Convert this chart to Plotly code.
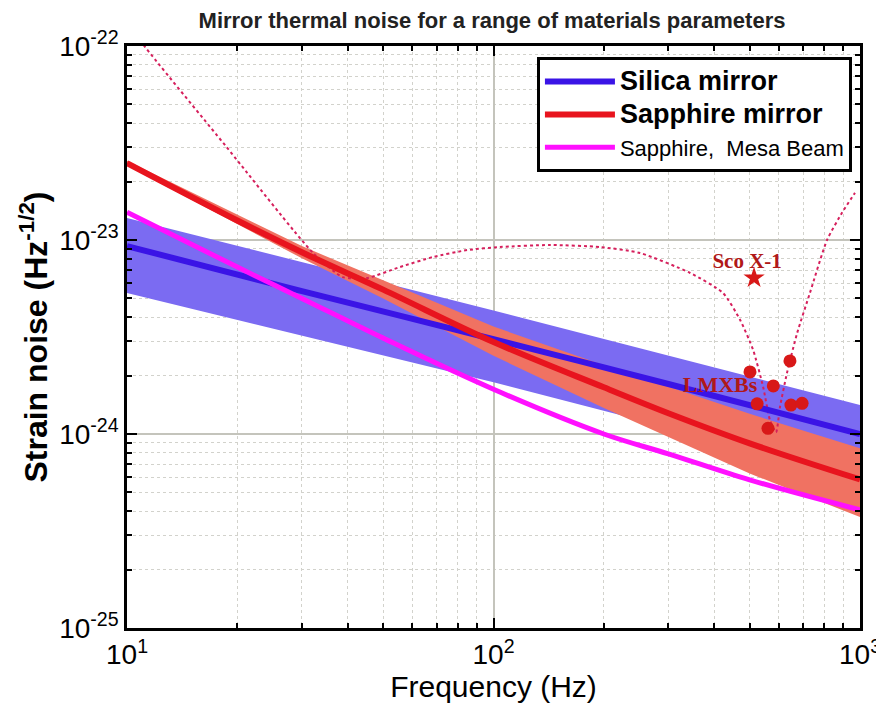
import numpy as np
import plotly.graph_objects as go

# ---------------- data ----------------
# Silica mirror (blue) central curve and band
silica_f = [10, 30, 100, 300, 1000]
silica_h = [9.3e-24, 5.45e-24, 3.08e-24, 1.81e-24, 1.0e-24]
silica_band_f = [10, 100, 1000]
silica_band_hi = [1.30e-23, 4.33e-24, 1.41e-24]
silica_band_lo = [5.33e-24, 1.85e-24, 6.0e-25]

# Sapphire mirror (red) central curve and band
sapph_f = [10, 20, 30, 50, 100, 200, 300, 500, 1000]
sapph_h = [2.49e-23, 1.26e-23, 8.65e-24, 5.55e-24, 2.98e-24, 1.74e-24, 1.28e-24, 8.95e-25, 5.83e-25]
sapph_band_f = [10, 30, 50, 100, 200, 300, 500, 1000]
sapph_band_hi = [2.56e-23, 9.3e-24, 6.2e-24, 3.58e-24, 2.26e-24, 1.75e-24, 1.27e-24, 8.45e-25]
sapph_band_lo = [2.42e-23, 8.05e-24, 5.0e-24, 2.53e-24, 1.36e-24, 9.6e-25, 6.26e-25, 3.73e-25]

# Sapphire, Mesa beam (magenta)
mesa_f = [10, 20, 30, 50, 100, 200, 300, 500, 1000]
mesa_h = [1.39e-23, 7.25e-24, 5.0e-24, 3.12e-24, 1.70e-24, 1.0e-24, 7.9e-25, 5.8e-25, 4.06e-25]

# Dotted (narrow-band detector) curve
det_f = [10, 10.85, 18.6, 32.2, 38.8, 45.2, 55.6, 68.4, 84.7, 104, 143, 195, 251, 344,
         423, 471, 511, 544, 568, 590, 605, 632, 674, 730, 813, 893, 969]
det_h = [1.36e-22, 1.07e-22, 3.05e-23, 8.57e-24, 6.44e-24, 6.37e-24, 7.26e-24, 8.17e-24,
         8.87e-24, 9.2e-24, 9.42e-24, 9.2e-24, 8.57e-24, 6.76e-24, 5.33e-24, 3.87e-24,
         2.71e-24, 1.75e-24, 1.18e-24, 1.02e-24, 1.38e-24, 2.06e-24, 3.32e-24, 5.33e-24,
         1.0e-23, 1.38e-23, 1.75e-23]

# LMXB sources
lmxb_f = [501, 644, 580, 524, 648, 695, 561]
lmxb_h = [2.09e-24, 2.38e-24, 1.77e-24, 1.43e-24, 1.41e-24, 1.44e-24, 1.07e-24]

# Sco X-1
sco_f = [514]
sco_h = [6.37e-24]

# Labels
sco_label_f, sco_label_h = [492], [7.6e-24]
lmxb_label_f, lmxb_label_h = [415], [1.75e-24]

x_tickvals = [10, 100, 1000]
x_ticktext = ['10<sup>1</sup>', '10<sup>2</sup>', '10<sup>3</sup>']
y_tickvals = [1e-25, 1e-24, 1e-23, 1e-22]
y_ticktext = ['10<sup>-25</sup>', '10<sup>-24</sup>', '10<sup>-23</sup>', '10<sup>-22</sup>']

# ---------------- figure ----------------
BLUE = '#3A14E6'
BLUE_BAND = '#7B6BF2'
RED = '#E8141E'
ORANGE_BAND = '#F07262'
MAGENTA = '#FF10FF'
DOT = '#D61F5C'
DARKRED = '#B01818'

# page body has an 8px margin: figure is sized to fit the 884x706 window
W, H = 876, 698

fig = go.Figure()

fig.add_trace(go.Scatter(
    x=silica_band_f + silica_band_f[::-1],
    y=silica_band_hi + silica_band_lo[::-1],
    fill='toself', fillcolor=BLUE_BAND, line=dict(width=0),
    mode='lines', showlegend=False, hoverinfo='skip'))

fig.add_trace(go.Scatter(
    x=sapph_band_f + sapph_band_f[::-1],
    y=sapph_band_hi + sapph_band_lo[::-1],
    fill='toself', fillcolor=ORANGE_BAND, line=dict(width=0),
    mode='lines', showlegend=False, hoverinfo='skip'))

fig.add_trace(go.Scatter(
    x=det_f, y=det_h, mode='lines',
    line=dict(color=DOT, width=2, dash='dot', shape='spline', smoothing=0.6),
    showlegend=False))

fig.add_trace(go.Scatter(
    x=silica_f, y=silica_h, mode='lines',
    name='<span style="font-size:27px"><b>Silica mirror</b></span>',
    line=dict(color=BLUE, width=6, shape='spline')))
fig.add_trace(go.Scatter(
    x=sapph_f, y=sapph_h, mode='lines',
    name='<span style="font-size:27px"><b>Sapphire mirror</b></span>',
    line=dict(color=RED, width=6, shape='spline')))
fig.add_trace(go.Scatter(
    x=mesa_f, y=mesa_h, mode='lines',
    name='<span style="font-size:22px">Sapphire,\u00a0 Mesa Beam</span>',
    line=dict(color=MAGENTA, width=5, shape='spline')))

fig.add_trace(go.Scatter(
    x=lmxb_f, y=lmxb_h, mode='markers',
    marker=dict(color='#D81818', size=13, line=dict(width=0)),
    showlegend=False))
fig.add_trace(go.Scatter(
    x=sco_f, y=sco_h, mode='markers',
    marker=dict(color='#D81818', size=16, symbol='star', line=dict(width=0)),
    showlegend=False))

fig.add_trace(go.Scatter(
    x=sco_label_f, y=sco_label_h, mode='text', text=['<b>Sco X-1</b>'],
    textfont=dict(family='Liberation Serif', size=21, color=DARKRED),
    showlegend=False))
fig.add_trace(go.Scatter(
    x=lmxb_label_f, y=lmxb_label_h, mode='text', text=['<b>LMXBs</b>'],
    textfont=dict(family='Liberation Serif', size=22, color=DARKRED),
    showlegend=False))

axis_common = dict(
    type='log', showline=True, linewidth=2.5, linecolor='black', mirror='allticks',
    ticks='inside', ticklen=10, tickwidth=2, tickcolor='black',
    showgrid=True, gridcolor='#C4C4BC', gridwidth=1.5,
    zeroline=False, automargin=False,
    tickfont=dict(family='Liberation Sans', size=28, color='black'),
    minor=dict(ticks='inside', ticklen=5, tickwidth=1.5, tickcolor='black',
               showgrid=True, gridcolor='#D2D2CC', griddash='dot', gridwidth=1,
               dtick='D1'),
)

fig.update_layout(
    width=W, height=H,
    margin=dict(l=119, r=24, t=38, b=78),
    paper_bgcolor='white', plot_bgcolor='white',
    title=dict(text='<b>Mirror thermal noise for a range of materials parameters</b>',
               x=484 / W, xanchor='center', y=1 - 12 / H, yanchor='middle',
               font=dict(family='Liberation Sans', size=22, color='#222222')),
    font=dict(family='Liberation Sans', color='black'),
    xaxis=dict(**axis_common, range=[1, 3], tickvals=x_tickvals, ticktext=x_ticktext,
               title=dict(text='Frequency (Hz)', standoff=2,
                          font=dict(family='Liberation Sans', size=30, color='black'))),
    yaxis=dict(**axis_common, range=[-25, -22], tickvals=y_tickvals, ticktext=y_ticktext,
               title=dict(text='<b>Strain noise (Hz<sup>-1/2</sup>)</b>', standoff=2,
                          font=dict(family='Liberation Sans', size=32, color='black'))),
    legend=dict(x=0.989, y=0.981, xanchor='right', yanchor='top',
                bgcolor='white', bordercolor='black', borderwidth=3,
                font=dict(family='Liberation Sans', size=23, color='black'),
                tracegroupgap=0, itemwidth=70),
    showlegend=True,
)

fig.write_html('out.html')
